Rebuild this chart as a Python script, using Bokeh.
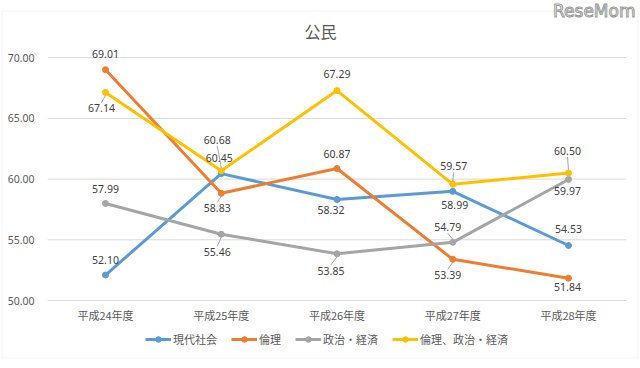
from bokeh.plotting import figure
from bokeh.models import (ColumnDataSource, Legend, LegendItem, Label, BoxAnnotation, Range1d)
from bokeh.embed import file_html
from bokeh.resources import INLINE
from bokeh.core.properties import value

# ---- data ----
years = ["平成24年度", "平成25年度", "平成26年度", "平成27年度", "平成28年度"]
gendai = [52.10, 60.45, 58.32, 58.99, 54.53]
rinri = [69.01, 58.83, 60.87, 53.39, 51.84]
seikei = [57.99, 55.46, 53.85, 54.79, 59.97]
rinri_seikei = [67.14, 60.68, 67.29, 59.57, 60.50]
series_names = ["現代社会", "倫理", "政治・経済", "倫理、政治・経済"]
y_ticks = [50, 55, 60, 65, 70]
chart_title = "公民"

# ---- style ----
colors = ["#5B9BD5", "#ED7D31", "#A5A5A5", "#FFC000"]
# data-label offsets in pixels (dx, dy; dy>0 = below) and whether a leader line is drawn
label_offsets = [
    [(0, -15), (-2, -16), (-6, 11), (2, 14), (0, -17)],
    [(0, -16), (-4, 15), (0, -15), (-5, 16), (-1, 9)],
    [(0, -15), (-4, 18), (-6, 17), (-5, -15), (-1, 12)],
    [(-4, 16), (-4, -31), (0, -17), (1, -18), (-1, -22)],
]
leaders = [
    [0, 0, 0, 0, 0],
    [0, 1, 0, 1, 0],
    [0, 1, 1, 1, 0],
    [1, 1, 0, 1, 1],
]
TXT = "#595959"
LAB = "#404040"
CJK = "Noto Sans CJK JP"
NUM = "Noto Sans"

W, H = 640, 368
SX = 115.75       # px per category
X0 = 105          # px of first category centre
SY = 12.14        # px per value unit
Y50 = 300         # px from top of the lowest gridline

p = figure(width=W, height=H,
           x_range=Range1d(-X0 / SX, (W - X0) / SX),
           y_range=Range1d(y_ticks[0] - (H - Y50) / SY, y_ticks[0] + Y50 / SY),
           output_backend="svg", toolbar_location=None,
           min_border_left=0, min_border_right=0, min_border_top=0, min_border_bottom=0)
p.axis.visible = False
p.grid.visible = False
p.outline_line_color = None
p.background_fill_color = "white"
p.border_fill_color = "white"

xs = list(range(len(years)))

# gridlines
p.segment(x0=[-0.5] * len(y_ticks), x1=[len(years) - 0.5] * len(y_ticks),
          y0=y_ticks, y1=y_ticks, line_color="#D9D9D9", line_width=1)
# y tick labels
p.text(x=[-0.5] * len(y_ticks), y=y_ticks, text=["%.2f" % t for t in y_ticks],
       x_offset=-13, text_font=value(NUM), text_font_size="10.5px", text_color=TXT,
       text_align="right", text_baseline="middle")
# x category labels
p.text(x=xs, y=[y_ticks[0]] * len(years), text=years, y_offset=14,
       text_font=value(CJK), text_font_size="11px", text_color=TXT,
       text_align="center", text_baseline="middle")

all_series = [gendai, rinri, seikei, rinri_seikei]
items = []
for vals, name, col in zip(all_series, series_names, colors):
    src = ColumnDataSource(dict(x=xs, y=vals))
    ln = p.line("x", "y", source=src, line_color=col, line_width=3, line_join="round")
    sc = p.scatter("x", "y", source=src, marker="circle", size=6, fill_color=col, line_color=col)
    items.append(LegendItem(label=name, renderers=[ln, sc]))

# leader lines
lx0, lx1, ly0, ly1 = [], [], [], []
for vals, offs, lead in zip(all_series, label_offsets, leaders):
    for i, (v, (dx, dy), l) in enumerate(zip(vals, offs, lead)):
        if not l:
            continue
        sgn = 1 if dy > 0 else -1
        lx0.append(i)
        ly0.append(v - sgn * 3 / SY)
        lx1.append(i + dx / SX)
        ly1.append(v - (dy - sgn * 6) / SY)
p.segment(x0=lx0, y0=ly0, x1=lx1, y1=ly1, line_color="#A6A6A6", line_width=1)

# data labels
for vals, offs in zip(all_series, label_offsets):
    src = ColumnDataSource(dict(x=xs, y=vals, lab=["%.2f" % v for v in vals],
                                dx=[o[0] for o in offs], dy=[o[1] for o in offs]))
    p.text("x", "y", text="lab", source=src, x_offset="dx", y_offset="dy",
           text_font=value(NUM), text_font_size="10.5px", text_color=LAB,
           text_align="center", text_baseline="middle")

legend = Legend(items=items, orientation="horizontal", location=(145, 21),
                padding=0, margin=0, spacing=14, label_standoff=2,
                glyph_width=26, glyph_height=14, label_height=14,
                label_text_font=CJK, label_text_font_size="11px", label_text_color=TXT,
                border_line_color=None, background_fill_alpha=0)
p.add_layout(legend, "center")

p.add_layout(Label(x=320, y=H - 30, x_units="screen", y_units="screen", text=chart_title,
                   text_font=CJK, text_font_size="16px", text_color=TXT,
                   text_align="center", text_baseline="middle"))

p.add_layout(BoxAnnotation(left=1.5, right=637.5, top=H - 10.5, bottom=H - 357.5,
                           left_units="screen", right_units="screen",
                           top_units="screen", bottom_units="screen",
                           fill_alpha=0, line_color="#D9D9D9", line_width=1))

p.add_layout(Label(x=635, y=H - 10, x_units="screen", y_units="screen", text="ReseMom",
                   text_font="DejaVu Sans", text_font_size="17px", text_color="white",
                   text_outline_color="#9a9a9a",
                   text_align="right", text_baseline="middle"))

open("out.html", "w").write(file_html(p, INLINE))
